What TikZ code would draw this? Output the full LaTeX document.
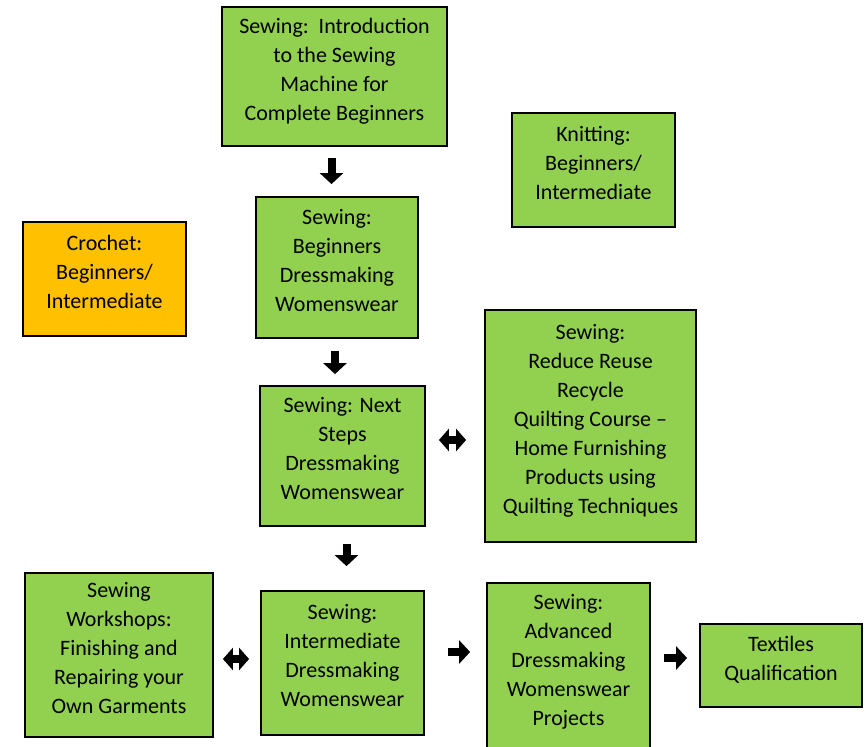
\documentclass[tikz,border=0pt]{standalone}
\usepackage{fontspec}
\setmainfont{Carlito}
\usetikzlibrary{arrows.meta}
\definecolor{boxgreen}{HTML}{92D050}
\definecolor{boxorange}{HTML}{FFC000}

\begin{document}
\begin{tikzpicture}[x=1pt,y=-1pt,
   course/.style={draw=black,line width=1.8pt,fill=boxgreen,align=center,inner sep=0pt,
                  font=\fontsize{22}{29}\selectfont,
                  execute at end node={\rule[-15pt]{0pt}{0pt}}},
   blk/.style={line width=8pt,-{Triangle[width=23pt,length=11pt]}},
   blkboth/.style={line width=8pt,{Triangle[width=22pt,length=10pt]}-{Triangle[width=22pt,length=10pt]}}]
   \useasboundingbox (0,0) rectangle (866,746);
   \node[course,minimum width=225pt,minimum height=139pt] (intro) at (334.5,76.5)
      {Sewing:~~Introduction\\to the Sewing\\Machine for\\Complete Beginners};
   \node[course,minimum width=163pt,minimum height=114pt] (knit) at (593.5,170)
      {Knitting:\\Beginners/\\Intermediate};
   \node[course,fill=boxorange,minimum width=163pt,minimum height=114pt] (crochet) at (104.5,279)
      {Crochet:\\Beginners/\\Intermediate};
   \node[course,minimum width=162pt,minimum height=141pt] (beg) at (337,267.5)
      {Sewing:\\Beginners\\Dressmaking\\Womenswear};
   \node[course,minimum width=165pt,minimum height=140pt] (next) at (342.5,456)
      {Sewing: Next\\Steps\\Dressmaking\\Womenswear};
   \node[course,minimum width=211pt,minimum height=232pt] (reduce) at (590.5,426)
      {Sewing:\\Reduce Reuse\\Recycle\\Quilting Course --\\Home Furnishing\\Products using\\Quilting Techniques};
   \node[course,minimum width=188pt,minimum height=164pt] (work) at (119,655)
      {Sewing\\Workshops:\\Finishing and\\Repairing your\\Own Garments};
   \node[course,minimum width=163pt,minimum height=144pt] (inter) at (342.5,663)
      {Sewing:\\Intermediate\\Dressmaking\\Womenswear};
   \node[course,minimum width=163pt,minimum height=168pt] (adv) at (568.5,667)
      {Sewing:\\Advanced\\Dressmaking\\Womenswear\\Projects};
   \node[course,minimum width=162pt,minimum height=83pt] (qual) at (781,665.5)
      {Textiles\\Qualification};
   % block arrows between the courses
   \draw[blk,shorten <=11pt,shorten >=12pt] ([xshift=-3pt]intro.south) -- ([xshift=-3pt]intro.south |- beg.north);
   \draw[blk,shorten <=12pt,shorten >=11pt] ([xshift=-2pt]beg.south) -- ([xshift=-2pt]beg.south |- next.north);
   \draw[blk,shorten <=17pt,shorten >=24pt] ([xshift=4pt]next.south) -- ([xshift=4pt]next.south |- inter.north);
   \draw[blkboth,shorten <=13pt,shorten >=18pt] ([yshift=16pt]next.east) -- ([yshift=16pt]next.east -| reduce.west);
   \draw[blkboth,shorten <=9pt,shorten >=11pt] ([yshift=-4pt]work.east) -- ([yshift=-4pt]work.east -| inter.west);
   \draw[blk,shorten <=23pt,shorten >=16pt] ([yshift=11pt]inter.east) -- ([yshift=11pt]inter.east -| adv.west);
   \draw[blk,shorten <=13pt,shorten >=12pt] ([yshift=9pt]adv.east) -- ([yshift=9pt]adv.east -| qual.west);
\end{tikzpicture}
\end{document}
